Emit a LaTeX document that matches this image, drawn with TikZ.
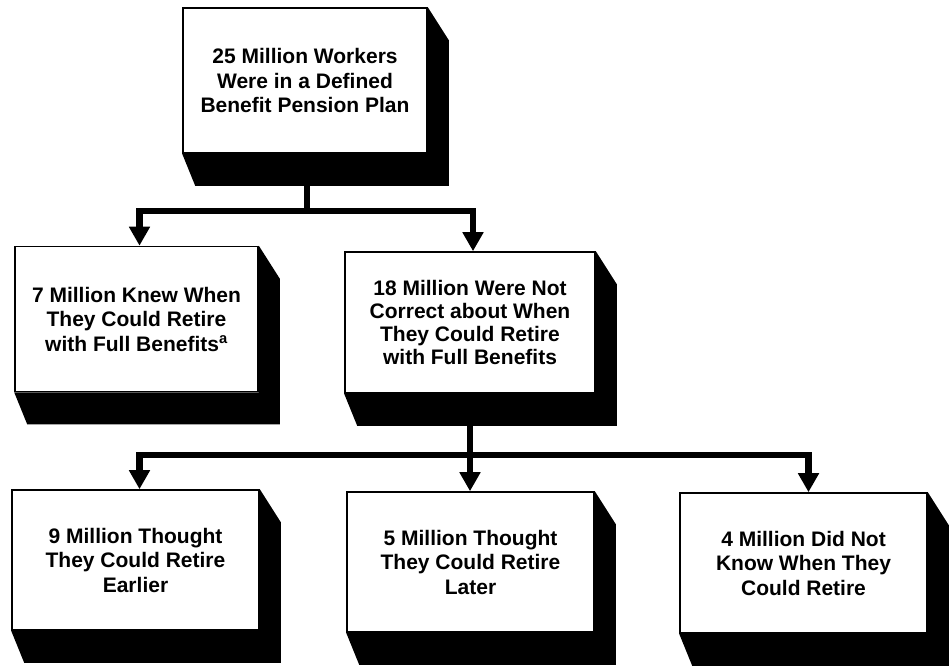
\documentclass[tikz,border=0pt]{standalone}
\usepackage{fontspec}
\setmainfont{Liberation Sans}
\usetikzlibrary{arrows.meta,calc}
\tikzset{
  panel/.style={draw=black, line width=1.6pt, fill=white, inner sep=0pt,
    align=center, font=\bfseries\fontsize{21}{24.5}\selectfont},
  link/.style={line width=6.5pt, line join=miter},
  linkarrow/.style={link, -{Triangle[width=20pt,length=19pt]}},
}
\newcommand\panelshade[1]{%
  \fill (#1.north east) -- ++(21,33) -- ($(#1.south east)+(21,32)$)
    -- ($(#1.south west)+(13,32)$) -- (#1.south west) -- (#1.south east) -- cycle;}
\begin{document}
\begin{tikzpicture}[x=1pt,y=-1pt]
\useasboundingbox (0,0) rectangle (952,667);

\node[panel, minimum width=244pt, minimum height=145pt] (top) at (305,80.5)
  {25 Million Workers\\Were in a Defined\\Benefit Pension Plan};
\node[panel, minimum width=243pt, minimum height=145pt] (ml) at (136.5,319)
  {7 Million Knew When\\They Could Retire\\with Full Benefits\textsuperscript{a}};
\node[panel, minimum width=250pt, minimum height=141pt,
  font=\bfseries\fontsize{21}{23.3}\selectfont] (mr) at (470,322.5)
  {18 Million Were Not\\Correct about When\\They Could Retire\\with Full Benefits};
\node[panel, minimum width=247pt, minimum height=140pt] (bl) at (135.5,560)
  {9 Million Thought\\They Could Retire\\Earlier};
\node[panel, minimum width=247pt, minimum height=140pt] (bm) at (470.5,562)
  {5 Million Thought\\They Could Retire\\Later};
\node[panel, minimum width=247pt, minimum height=140pt] (br) at (803.5,563)
  {4 Million Did Not\\Know When They\\Could Retire};

\panelshade{top}
\panelshade{ml}
\panelshade{mr}
\panelshade{bl}
\panelshade{bm}
\panelshade{br}

\coordinate (j1) at (307,211);
\coordinate (j2) at (470,455);

\draw[link] (top.south -| j1) -- (j1);
\draw[linkarrow] (j1) -| ($(ml.north)+(3,0)$);
\draw[linkarrow] (j1) -| ($(mr.north)+(3,0)$);

\draw[link] (mr.south -| j2) -- (j2);
\draw[linkarrow] (j2) -| ($(bl.north)+(4,0)$);
\draw[linkarrow] (j2) -- (bm.north -| j2);
\draw[linkarrow] (j2) -| ($(br.north)+(5,0)$);
\end{tikzpicture}
\end{document}
